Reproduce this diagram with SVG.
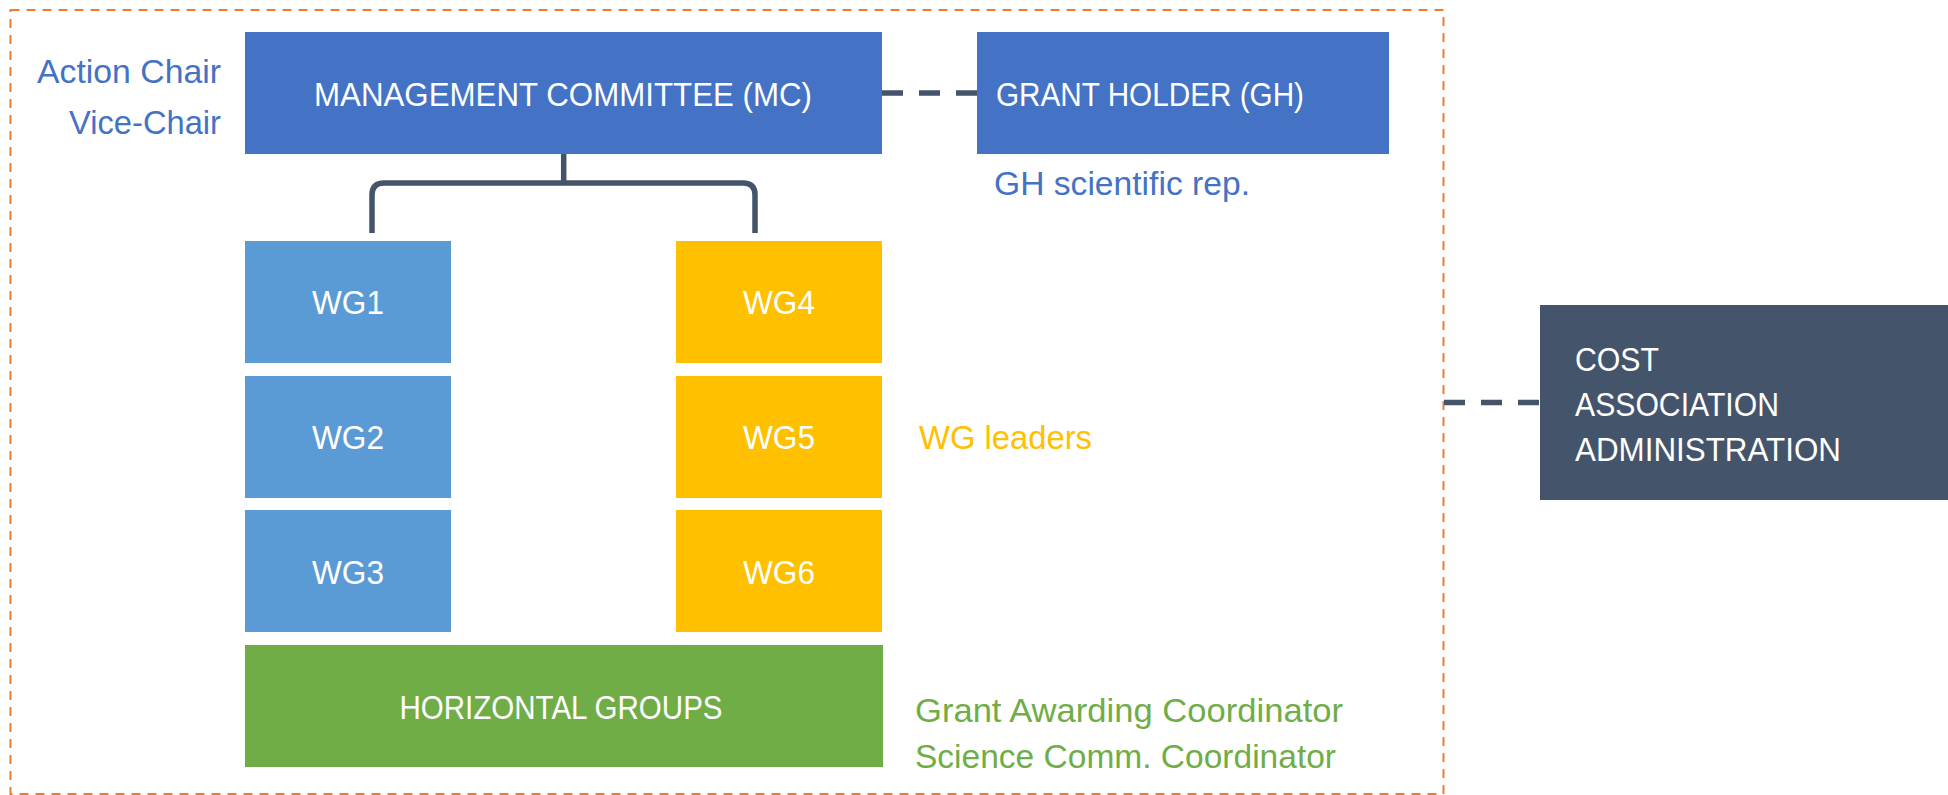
<svg xmlns="http://www.w3.org/2000/svg" width="1948" height="795" viewBox="0 0 1948 795">
<style>
text{font-family:"Liberation Sans",Arial,sans-serif}
.nt{fill:#fff;font-size:33px}
.lb{font-size:33px}
.mid{text-anchor:middle}
.end{text-anchor:end}
.conn{fill:none;stroke:#44546a;stroke-width:5.5}
.dash{stroke-dasharray:21 16}
</style>
<rect width="1948" height="795" fill="#fff"/>
<g id="boundary">
<rect x="10.5" y="10" width="1433" height="784" fill="none" stroke="#ed7d31" stroke-width="2" stroke-dasharray="9 7"/>
</g>
<g id="connectors">
<path class="conn" d="M563.7 154 V183 M372 233 V195 Q372 183 384 183 H743 Q755 183 755 195 V233"/>
<line class="conn dash" x1="882" y1="93" x2="977" y2="93"/>
<line class="conn dash" x1="1444" y1="402.5" x2="1540" y2="402.5"/>
</g>
<g id="mc">
<rect x="245" y="32" width="637" height="122" fill="#4472c4"/>
<text class="nt mid" x="563" y="106" textLength="498" lengthAdjust="spacingAndGlyphs">MANAGEMENT COMMITTEE (MC)</text>
</g>
<g id="mc-roles">
<text class="lb end" x="221" y="83" fill="#4472c4" textLength="184" lengthAdjust="spacingAndGlyphs">Action Chair</text>
<text class="lb end" x="221" y="134" fill="#4472c4" textLength="152" lengthAdjust="spacingAndGlyphs">Vice-Chair</text>
</g>
<g id="gh">
<rect x="977" y="32" width="412" height="122" fill="#4472c4"/>
<text class="nt" x="996" y="106" textLength="308" lengthAdjust="spacingAndGlyphs">GRANT HOLDER (GH)</text>
</g>
<g id="gh-rep">
<text class="lb" x="994" y="195" fill="#4472c4" textLength="256" lengthAdjust="spacingAndGlyphs">GH scientific rep.</text>
</g>
<g id="wg1">
<rect x="245" y="241" width="206" height="122" fill="#5b9bd5"/>
<text class="nt mid" x="348" y="314" textLength="72" lengthAdjust="spacingAndGlyphs">WG1</text>
</g>
<g id="wg2">
<rect x="245" y="376" width="206" height="122" fill="#5b9bd5"/>
<text class="nt mid" x="348" y="449" textLength="72" lengthAdjust="spacingAndGlyphs">WG2</text>
</g>
<g id="wg3">
<rect x="245" y="510" width="206" height="122" fill="#5b9bd5"/>
<text class="nt mid" x="348" y="584" textLength="72" lengthAdjust="spacingAndGlyphs">WG3</text>
</g>
<g id="wg4">
<rect x="676" y="241" width="206" height="122" fill="#ffc000"/>
<text class="nt mid" x="779" y="314" textLength="72" lengthAdjust="spacingAndGlyphs">WG4</text>
</g>
<g id="wg5">
<rect x="676" y="376" width="206" height="122" fill="#ffc000"/>
<text class="nt mid" x="779" y="449" textLength="72" lengthAdjust="spacingAndGlyphs">WG5</text>
</g>
<g id="wg6">
<rect x="676" y="510" width="206" height="122" fill="#ffc000"/>
<text class="nt mid" x="779" y="584" textLength="72" lengthAdjust="spacingAndGlyphs">WG6</text>
</g>
<g id="wg-leaders">
<text class="lb" x="919" y="449" fill="#ffc000" textLength="173" lengthAdjust="spacingAndGlyphs">WG leaders</text>
</g>
<g id="hg">
<rect x="245" y="645" width="638" height="122" fill="#70ad47"/>
<text class="nt mid" x="561" y="719" textLength="323" lengthAdjust="spacingAndGlyphs">HORIZONTAL GROUPS</text>
</g>
<g id="hg-roles">
<text class="lb" x="915" y="722" fill="#70ad47" textLength="428" lengthAdjust="spacingAndGlyphs">Grant Awarding Coordinator</text>
<text class="lb" x="915" y="768" fill="#70ad47" textLength="421" lengthAdjust="spacingAndGlyphs">Science Comm. Coordinator</text>
</g>
<g id="cost">
<rect x="1540" y="305" width="408" height="195" fill="#44546a"/>
<text class="nt" x="1575" y="371" textLength="84" lengthAdjust="spacingAndGlyphs">COST</text>
<text class="nt" x="1575" y="416" textLength="204" lengthAdjust="spacingAndGlyphs">ASSOCIATION</text>
<text class="nt" x="1575" y="461" textLength="266" lengthAdjust="spacingAndGlyphs">ADMINISTRATION</text>
</g>
</svg>
